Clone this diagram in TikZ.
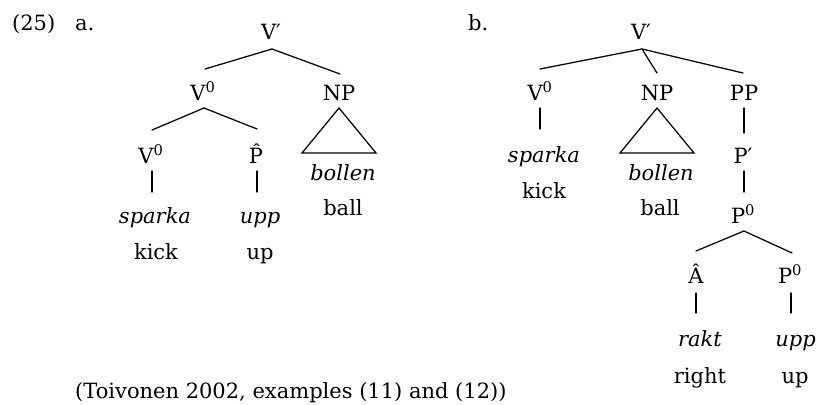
\documentclass[tikz,border=0pt]{standalone}
\usepackage{fontspec}
\setmainfont{DejaVu Serif}
\usetikzlibrary{calc}
\begin{document}
\begin{tikzpicture}[x=1pt,y=-1pt,
  lbl/.style={anchor=base, inner sep=0pt, font=\fontsize{21}{25}\selectfont},
  lblw/.style={lbl, anchor=base west},
  edge/.style={line width=1.25pt, line cap=round}]
\useasboundingbox (0,0) rectangle (818,404);
% labels
\node[lblw] (ex) at (12,31) {(25)};
\node[lblw] (la) at (75,31) {a.};
\node[lblw] (lb) at (468,31) {b.};
\node[lblw] (cite) at (75,398) {(Toivonen 2002, examples (11) and (12))};
% tree a
\node[lbl] (Va1) at (271,40) {V′};
\node[lbl] (Va2) at (203,100) {V\textsuperscript{0}};
\node[lbl] (NPa) at (339,100) {NP};
\node[lbl] (Va3) at (151,163) {V\textsuperscript{0}};
\node[lbl] (Pa) at (256,163) {\^{P}};
\node[lbl] (bollena) at (343,180) {\textit{bollen}};
\node[lbl] (balla) at (343,215) {ball};
\node[lbl] (sparkaa) at (155,223) {\textit{sparka}};
\node[lbl] (kicka) at (156,259) {kick};
\node[lbl] (uppa) at (260,223) {\textit{upp}};
\node[lbl] (upa) at (260,259) {up};
\draw[edge] ($(Va1.base)+(1,9)$) -- ($(Va2.base)+(2,-31)$);
\draw[edge] ($(Va1.base)+(1,9)$) -- ($(NPa.base)+(1,-26)$);
\draw[edge] ($(Va2.base)+(1,8)$) -- ($(Va3.base)+(1,-33)$);
\draw[edge] ($(Va2.base)+(1,8)$) -- ($(Pa.base)+(1,-34)$);
\draw[edge] ($(Va3.base)+(1,8)$) -- ($(Va3.base |- sparkaa.base)+(1,-31)$);
\draw[edge] ($(Pa.base)+(1,8)$) -- ($(Pa.base |- uppa.base)+(1,-31)$);
\draw[edge, line join=miter] ($(NPa.base)+(0,8)$) -- ($(NPa.base)+(-37,53)$) -- ($(NPa.base)+(37,53)$) -- cycle;
% tree b
\node[lbl] (Vb1) at (641,40) {V′};
\node[lbl] (Vb2) at (540,100) {V\textsuperscript{0}};
\node[lbl] (NPb) at (657,100) {NP};
\node[lbl] (PPb) at (744,100) {PP};
\node[lbl] (sparkab) at (544,162) {\textit{sparka}};
\node[lbl] (kickb) at (544,198) {kick};
\node[lbl] (bollenb) at (661,180) {\textit{bollen}};
\node[lbl] (ballb) at (660,215) {ball};
\node[lbl] (Pb1) at (743,163) {P′};
\node[lbl] (Pb2) at (743,223) {P\textsuperscript{0}};
\node[lbl] (Ab) at (696,283) {Â};
\node[lbl] (Pb3) at (790,283) {P\textsuperscript{0}};
\node[lbl] (raktb) at (700,346) {\textit{rakt}};
\node[lbl, anchor=base east] (uppb) at (816,346) {\textit{upp}};
\node[lbl] (rightb) at (700,383) {right};
\node[lbl] (upb) at (795,383) {up};
\draw[edge] ($(Vb1.base)+(1,9)$) -- ($(Vb2.base)+(0,-31)$);
\draw[edge] ($(Vb1.base)+(1,9)$) -- ($(NPb.base)+(0,-27)$);
\draw[edge] ($(Vb1.base)+(1,9)$) -- ($(PPb.base)+(-1,-27)$);
\draw[edge] ($(Vb2.base)+(0,8)$) -- ($(Vb2.base |- sparkab.base)+(0,-33)$);
\draw[edge, line join=miter] ($(NPb.base)+(0,8)$) -- ($(NPb.base)+(-37,53)$) -- ($(NPb.base)+(37,53)$) -- cycle;
\draw[edge] ($(PPb.base)+(0,8)$) -- ($(PPb.base |- Pb1.base)+(0,-30)$);
\draw[edge] ($(Pb1.base)+(1,8)$) -- ($(Pb1.base |- Pb2.base)+(1,-31)$);
\draw[edge] ($(Pb2.base)+(1,8)$) -- ($(Ab.base)+(0,-32)$);
\draw[edge] ($(Pb2.base)+(1,8)$) -- ($(Pb3.base)+(2,-30)$);
\draw[edge] ($(Ab.base)+(0,10)$) -- ($(Ab.base |- raktb.base)+(0,-33)$);
\draw[edge] ($(Pb3.base)+(1,10)$) -- ($(Pb3.base |- uppb.base)+(1,-33)$);
\end{tikzpicture}
\end{document}
